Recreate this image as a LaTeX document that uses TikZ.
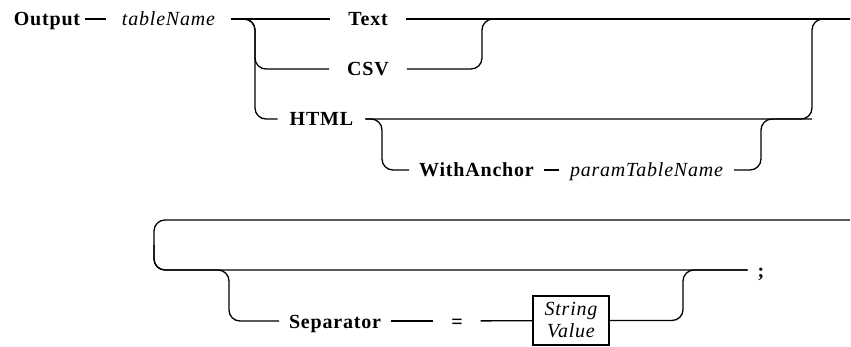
\documentclass[tikz,border=0pt]{standalone}
\usepackage{fontspec}
\setmainfont{Liberation Serif}
\newfontfamily\railfamily[LetterSpace=4]{Liberation Serif}
\newcommand\kwfont{\railfamily\bfseries\fontsize{20}{23}\selectfont}
\newcommand\idfont{\railfamily\itshape\fontsize{20}{24}\selectfont}

\tikzset{
  rail/.style={line width=1.3pt, rounded corners=11pt},
  kw/.style={font=\kwfont, inner sep=0pt, text height=14pt, text depth=0pt, outer xsep=10pt},
  ident/.style={font=\idfont, inner sep=0pt, text height=14pt, text depth=0pt, outer xsep=10pt},
  valbox/.style={draw, line width=1.1pt, font=\idfont, align=center,
                 minimum width=76pt, minimum height=49pt, inner sep=1pt},
}

\begin{document}
\begin{tikzpicture}[x=1pt,y=-1pt]
  \useasboundingbox (0,0) rectangle (851,347);

  %% first line: Output tableName ...
  \node[kw, outer xsep=5pt]     (out)  at (47,19)    {Output};
  \node[ident, outer xsep=16pt] (tbl)  at (168.5,19) {tableName};
  \node[kw, outer xsep=18pt]    (txt)  at (368,19)   {Text};
  \node[kw, outer xsep=18pt]    (csv)  at (368,69)   {CSV};
  \node[kw, outer xsep=12pt]    (html) at (321.5,119) {HTML};
  \node[kw]                     (anch) at (476.5,170) {WithAnchor};
  \node[ident, outer xsep=11pt] (ptn)  at (646.5,170) {paramTableName};

  \coordinate (endA)  at (850,19);
  \coordinate (fork1) at (255,44);
  \coordinate (join1) at (482,44);
  \coordinate (join2) at (812,69);
  \coordinate (htmlR) at (812,119);
  \coordinate (fork3) at (382,145);
  \coordinate (join3) at (761,145);

  \draw[rail] (out) -- (tbl);
  \draw[rail] (tbl) -- (txt);
  \draw[rail] (txt) -- (endA);
  \draw[rail] (tbl.east) -| (fork1) |- (csv.west);
  \draw[rail] (tbl.east) -| (fork1) |- (html.west);
  \draw[rail] (csv.east) -| (join1) |- (endA);
  \draw[rail] (html.east) -| (join2) |- (endA);
  \draw[rail] (html.east) -| (fork3) |- (anch.west);
  \draw[rail] (anch) -- (ptn);
  \draw[rail] (ptn.east) -| (join3) |- (htmlR);

  %% second line: [Separator = String Value] ;
  \node[kw]                     (sep)  at (335,321)   {Separator};
  \node[kw, outer xsep=18pt]    (eq)   at (457,321)   {=};
  \node[valbox]                 (str)  at (571,320.5) {String\\[-2pt]Value};
  \node[kw]                     (semi) at (761,270)   {;};

  \coordinate (wrapR) at (850,220);
  \coordinate (wrapL) at (154,245);
  \coordinate (fork4) at (229,270);
  \coordinate (join4) at (683,295);

  \draw[rail] (wrapR) -| (wrapL) |- (semi.west);
  \draw[rail] (wrapL) |- (fork4) |- (sep.west);
  \draw[rail] (sep) -- (eq);
  \draw[rail] (eq) -- (str);
  \draw[rail] (str.east) -| (join4) |- (semi.west);
\end{tikzpicture}
\end{document}
